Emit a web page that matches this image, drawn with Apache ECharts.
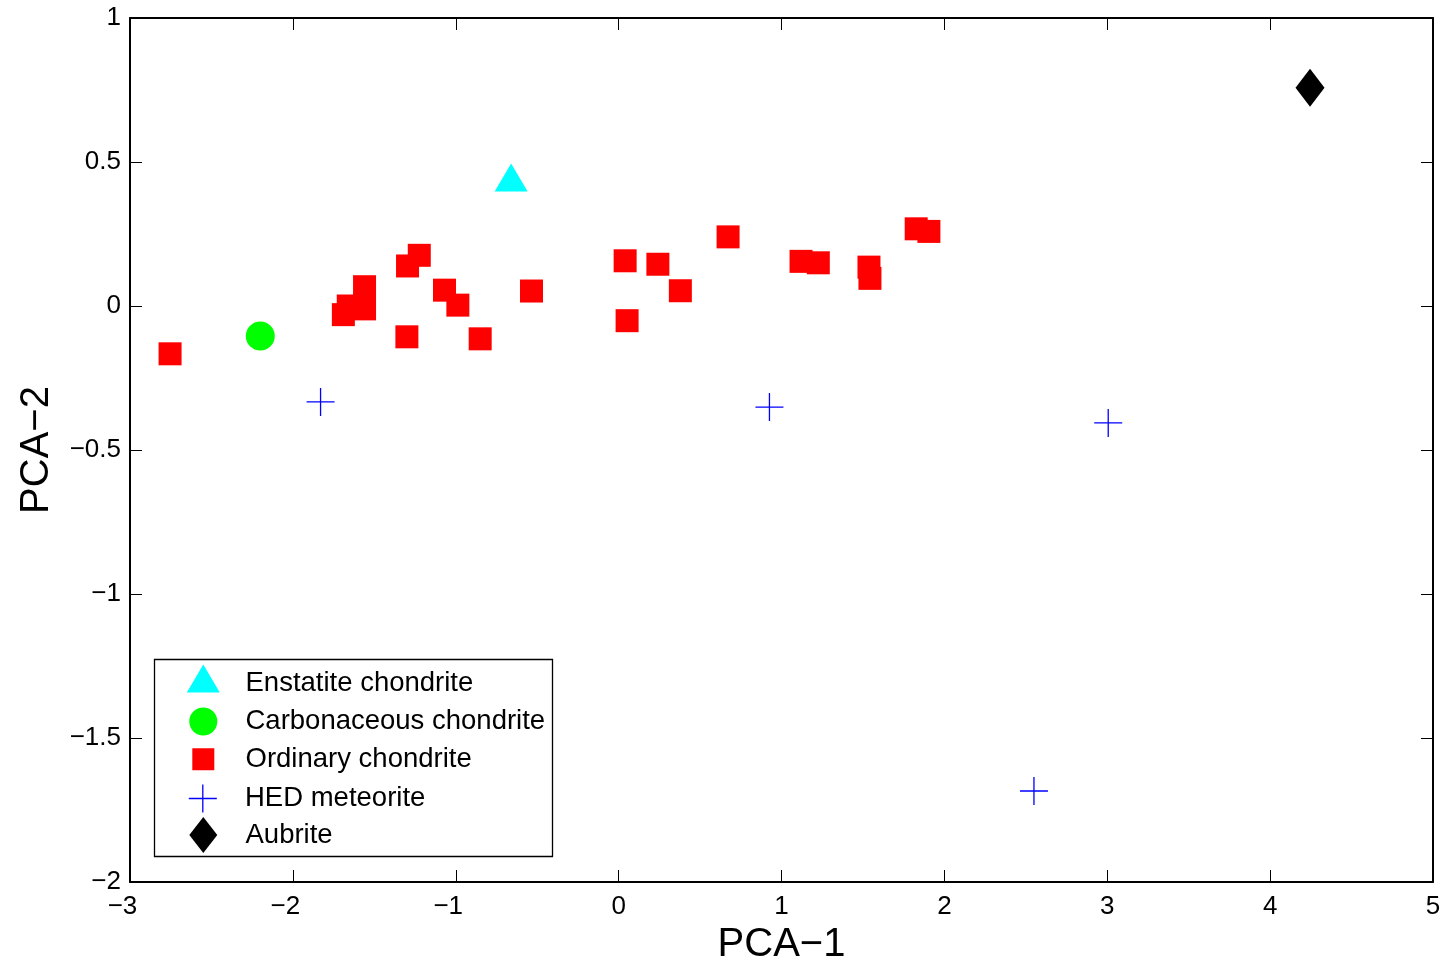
<!DOCTYPE html>
<html>
<head>
<meta charset="utf-8">
<script src="https://cdn.jsdelivr.net/npm/echarts@6/dist/echarts.min.js"></script>
<style>html,body{margin:0;padding:0;background:#fff;}#c{width:1443px;height:960px;}</style>
</head>
<body>
<div id="c"></div>
<script>
const xTicks = [-3, -2, -1, 0, 1, 2, 3, 4, 5];
const yTicks = [-2, -1.5, -1, -0.5, 0, 0.5, 1];
const seriesNames = ['Enstatite chondrite', 'Carbonaceous chondrite', 'Ordinary chondrite', 'HED meteorite', 'Aubrite'];

const enstatiteX = [-0.66];
const enstatiteY = [0.446];
const carbonaceousX = [-2.20];
const carbonaceousY = [-0.104];
const ordinaryX = [-2.754, -1.69, -1.66, -1.56, -1.56, -1.296, -1.224, -1.069, -0.987, -1.30, -0.85, -0.535, 0.04, 0.241, 0.379, 0.052, 0.672, 1.12, 1.226, 1.537, 1.543, 1.827, 1.905];
const ordinaryY = [-0.166, -0.03, 0.0, 0.067, -0.01, 0.139, 0.176, 0.055, 0.003, -0.107, -0.114, 0.052, 0.157, 0.145, 0.053, -0.051, 0.240, 0.155, 0.150, 0.135, 0.096, 0.268, 0.259];
const hedX = [-1.83, 0.926, 3.006, 2.55];
const hedY = [-0.333, -0.351, -0.406, -1.684];
const aubriteX = [4.245];
const aubriteY = [0.758];

const pairs = (xs, ys) => xs.map((x, i) => [x, ys[i]]);
const FONT = "'Liberation Sans', Arial, Helvetica, sans-serif";
const MINUS = '\u2212';

const chart = echarts.init(document.getElementById('c'), null, {renderer: 'canvas'});

const axisLine = {show: true, onZero: false, lineStyle: {color: '#000', width: 2}};
const axisTick = {show: true, inside: true, length: 12, lineStyle: {color: '#000', width: 1}};

const xMin = xTicks[0], xMax = xTicks[xTicks.length - 1];
const yMin = yTicks[0], yMax = yTicks[yTicks.length - 1];

const crossPath = 'path://M0,14L28,14M14,0L14,28';
// triangle legend icon sits in the upper part of a taller box (as in the original)
const triLegendPath = 'path://M16.5,0L33,28L0,28Z M0,38L0,38';

// legend layout: [w, h, itemCenterY, xShift]
const legendLayout = [
  [33, 38, 683.5, 0],
  [28, 28, 721.5, 0],
  [22, 22, 759, 0],
  [28, 28, 796, -3],
  [28, 36, 835, 0]
];
const legendIconX = 203.3;
const textLH = 27.5;
const legends = seriesNames.map((name, i) => {
  const [w, h, cy, dx] = legendLayout[i];
  const top = cy - Math.max(h, textLH) / 2;
  const item = {name: name};
  if (i === 0) item.icon = triLegendPath;
  if (i === 3) item.itemStyle = {color: 'none', borderColor: '#0000ff', borderWidth: 1.3};
  return {
    show: true,
    orient: 'horizontal',
    left: legendIconX - w / 2 + dx,
    top: top,
    padding: 0,
    itemWidth: w,
    itemHeight: h,
    selectedMode: false,
    z: 6,
    data: [item],
    textStyle: {
      fontSize: 27.5,
      color: '#000',
      fontFamily: FONT,
      padding: [0, 0, 0, 37.2 - w / 2]
    }
  };
});

const option = {
  backgroundColor: '#fff',
  animation: false,
  grid: {left: 130, right: 10, top: 18, bottom: 78, outerBoundsMode: 'none', containLabel: false},
  xAxis: [
    {
      type: 'value', min: xMin, max: xMax, interval: 1, position: 'bottom',
      axisLine: axisLine, axisTick: axisTick, splitLine: {show: false},
      axisLabel: {
        show: true, margin: 12, color: '#000', fontSize: 26, fontFamily: FONT,
        formatter: v => v < 0 ? MINUS + Math.abs(v) + '{s|\u00a0}' : String(v),
        rich: {s: {width: 15, fontSize: 26, fontFamily: FONT}}
      },
      name: 'PCA' + MINUS + '1', nameLocation: 'middle', nameGap: 38,
      nameTextStyle: {fontSize: 40, color: '#000', fontFamily: FONT}
    },
    {
      type: 'value', min: xMin, max: xMax, interval: 1, position: 'top',
      axisLine: axisLine, axisTick: axisTick, splitLine: {show: false},
      axisLabel: {show: false}
    }
  ],
  yAxis: [
    {
      type: 'value', min: yMin, max: yMax, interval: 0.5, position: 'left',
      axisLine: axisLine, axisTick: axisTick, splitLine: {show: false},
      axisLabel: {
        show: true, margin: 9, color: '#000', fontSize: 26, fontFamily: FONT,
        formatter: v => v < 0 ? MINUS + Math.abs(v) : String(v)
      },
      name: 'PCA' + MINUS + '2', nameLocation: 'middle', nameGap: 73, nameRotate: 90,
      nameTextStyle: {fontSize: 40, color: '#000', fontFamily: FONT}
    },
    {
      type: 'value', min: yMin, max: yMax, interval: 0.5, position: 'right',
      axisLine: axisLine, axisTick: axisTick, splitLine: {show: false},
      axisLabel: {show: false}
    }
  ],
  legend: legends,
  graphic: [
    {
      type: 'rect', z: 5,
      shape: {x: 154.5, y: 659.5, width: 398, height: 197},
      style: {fill: '#fff', stroke: '#000', lineWidth: 1.3}
    }
  ],
  series: [
    {
      name: seriesNames[0], type: 'scatter', xAxisIndex: 0, yAxisIndex: 0,
      symbol: 'triangle', symbolSize: [33, 28],
      itemStyle: {color: '#00ffff', opacity: 1},
      data: pairs(enstatiteX, enstatiteY)
    },
    {
      name: seriesNames[1], type: 'scatter', xAxisIndex: 0, yAxisIndex: 0,
      symbol: 'circle', symbolSize: 29,
      itemStyle: {color: '#00ff00', opacity: 1},
      data: pairs(carbonaceousX, carbonaceousY)
    },
    {
      name: seriesNames[2], type: 'scatter', xAxisIndex: 0, yAxisIndex: 0,
      symbol: 'rect', symbolSize: 23,
      itemStyle: {color: '#ff0000', opacity: 1},
      data: pairs(ordinaryX, ordinaryY)
    },
    {
      name: seriesNames[3], type: 'scatter', xAxisIndex: 0, yAxisIndex: 0,
      symbol: crossPath, symbolSize: 28,
      itemStyle: {color: 'none', borderColor: '#0000ff', borderWidth: 1.3, opacity: 1},
      data: pairs(hedX, hedY)
    },
    {
      name: seriesNames[4], type: 'scatter', xAxisIndex: 0, yAxisIndex: 0,
      symbol: 'diamond', symbolSize: [29, 38],
      itemStyle: {color: '#000000', opacity: 1},
      data: pairs(aubriteX, aubriteY)
    }
  ]
};
chart.setOption(option);
</script>
</body>
</html>
